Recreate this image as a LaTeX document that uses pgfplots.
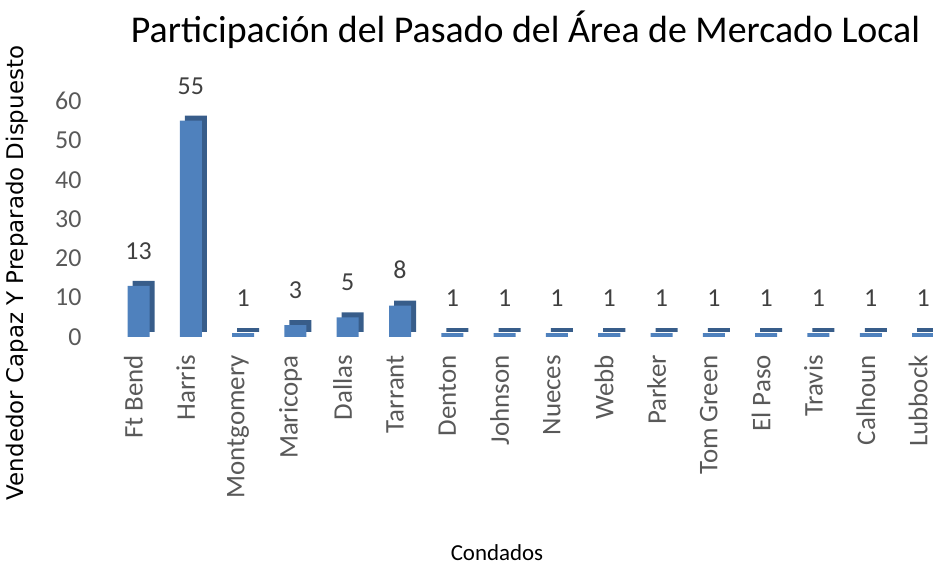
\documentclass[border=0pt]{standalone}
\usepackage{pgfplots}
\pgfplotsset{compat=1.18}
\usepackage{fontspec}
\setmainfont{Carlito}
\newfontfamily\ylabfont{DejaVu Sans}
\definecolor{front}{HTML}{4F81BD}
\definecolor{side}{HTML}{385D8A}
\definecolor{ticktext}{HTML}{595959}
\definecolor{valtext}{HTML}{404040}
\begin{document}
\begin{tikzpicture}[x=1bp,y=1bp]
\useasboundingbox (0,0) rectangle (933,569);
\begin{axis}[
  at={(109bp,232bp)}, anchor=south west,
  scale only axis, width=824bp, height=243.8bp,
  xmin=-0.564, xmax=15.19, ymin=0, ymax=62,
  clip=false,
  axis line style={draw=none},
  major tick length=0pt,
  ytick={0,10,...,60},
  xtick={0,...,15},
  xticklabels={Ft Bend,Harris,Montgomery,Maricopa,Dallas,Tarrant,Denton,Johnson,Nueces,Webb,Parker,Tom Green,El Paso,Travis,Calhoun,Lubbock},
  /pgf/number format/assume math mode=true,
  yticklabel style={font=\fontsize{26}{28}\selectfont, text=ticktext, xshift=-24bp},
  xticklabel style={font=\fontsize{27}{29}\selectfont, text=ticktext, rotate=90, anchor=east, inner sep=0bp, xshift=-18bp, yshift=5bp},
]
\addplot[ybar, bar width=22bp, bar shift=5bp, fill=side, draw=none, yshift=5bp]
  coordinates {(0,13)(1,55)(2,1)(3,3)(4,5)(5,8)(6,1)(7,1)(8,1)(9,1)(10,1)(11,1)(12,1)(13,1)(14,1)(15,1)};
\addplot[ybar, bar width=22bp, bar shift=0bp, fill=front, draw=none,
  nodes near coords,
  nodes near coords style={font=\fontsize{26}{28}\selectfont, text=valtext, anchor=south, yshift=23bp}]
  coordinates {(0,13)(1,55)(2,1)(3,3)(4,5)(5,8)(6,1)(7,1)(8,1)(9,1)(10,1)(11,1)(12,1)(13,1)(14,1)(15,1)};
\end{axis}
\node[font=\fontsize{38}{42}\selectfont] at (525.5,539) {Participación del Pasado del Área de Mercado Local};
\node[font=\ylabfont\fontsize{23}{26}\selectfont, rotate=90] at (17,296) {Vendedor Capaz Y Preparado Dispuesto};
\node[font=\fontsize{23}{26}\selectfont] at (497,16) {Condados};
\end{tikzpicture}
\end{document}
